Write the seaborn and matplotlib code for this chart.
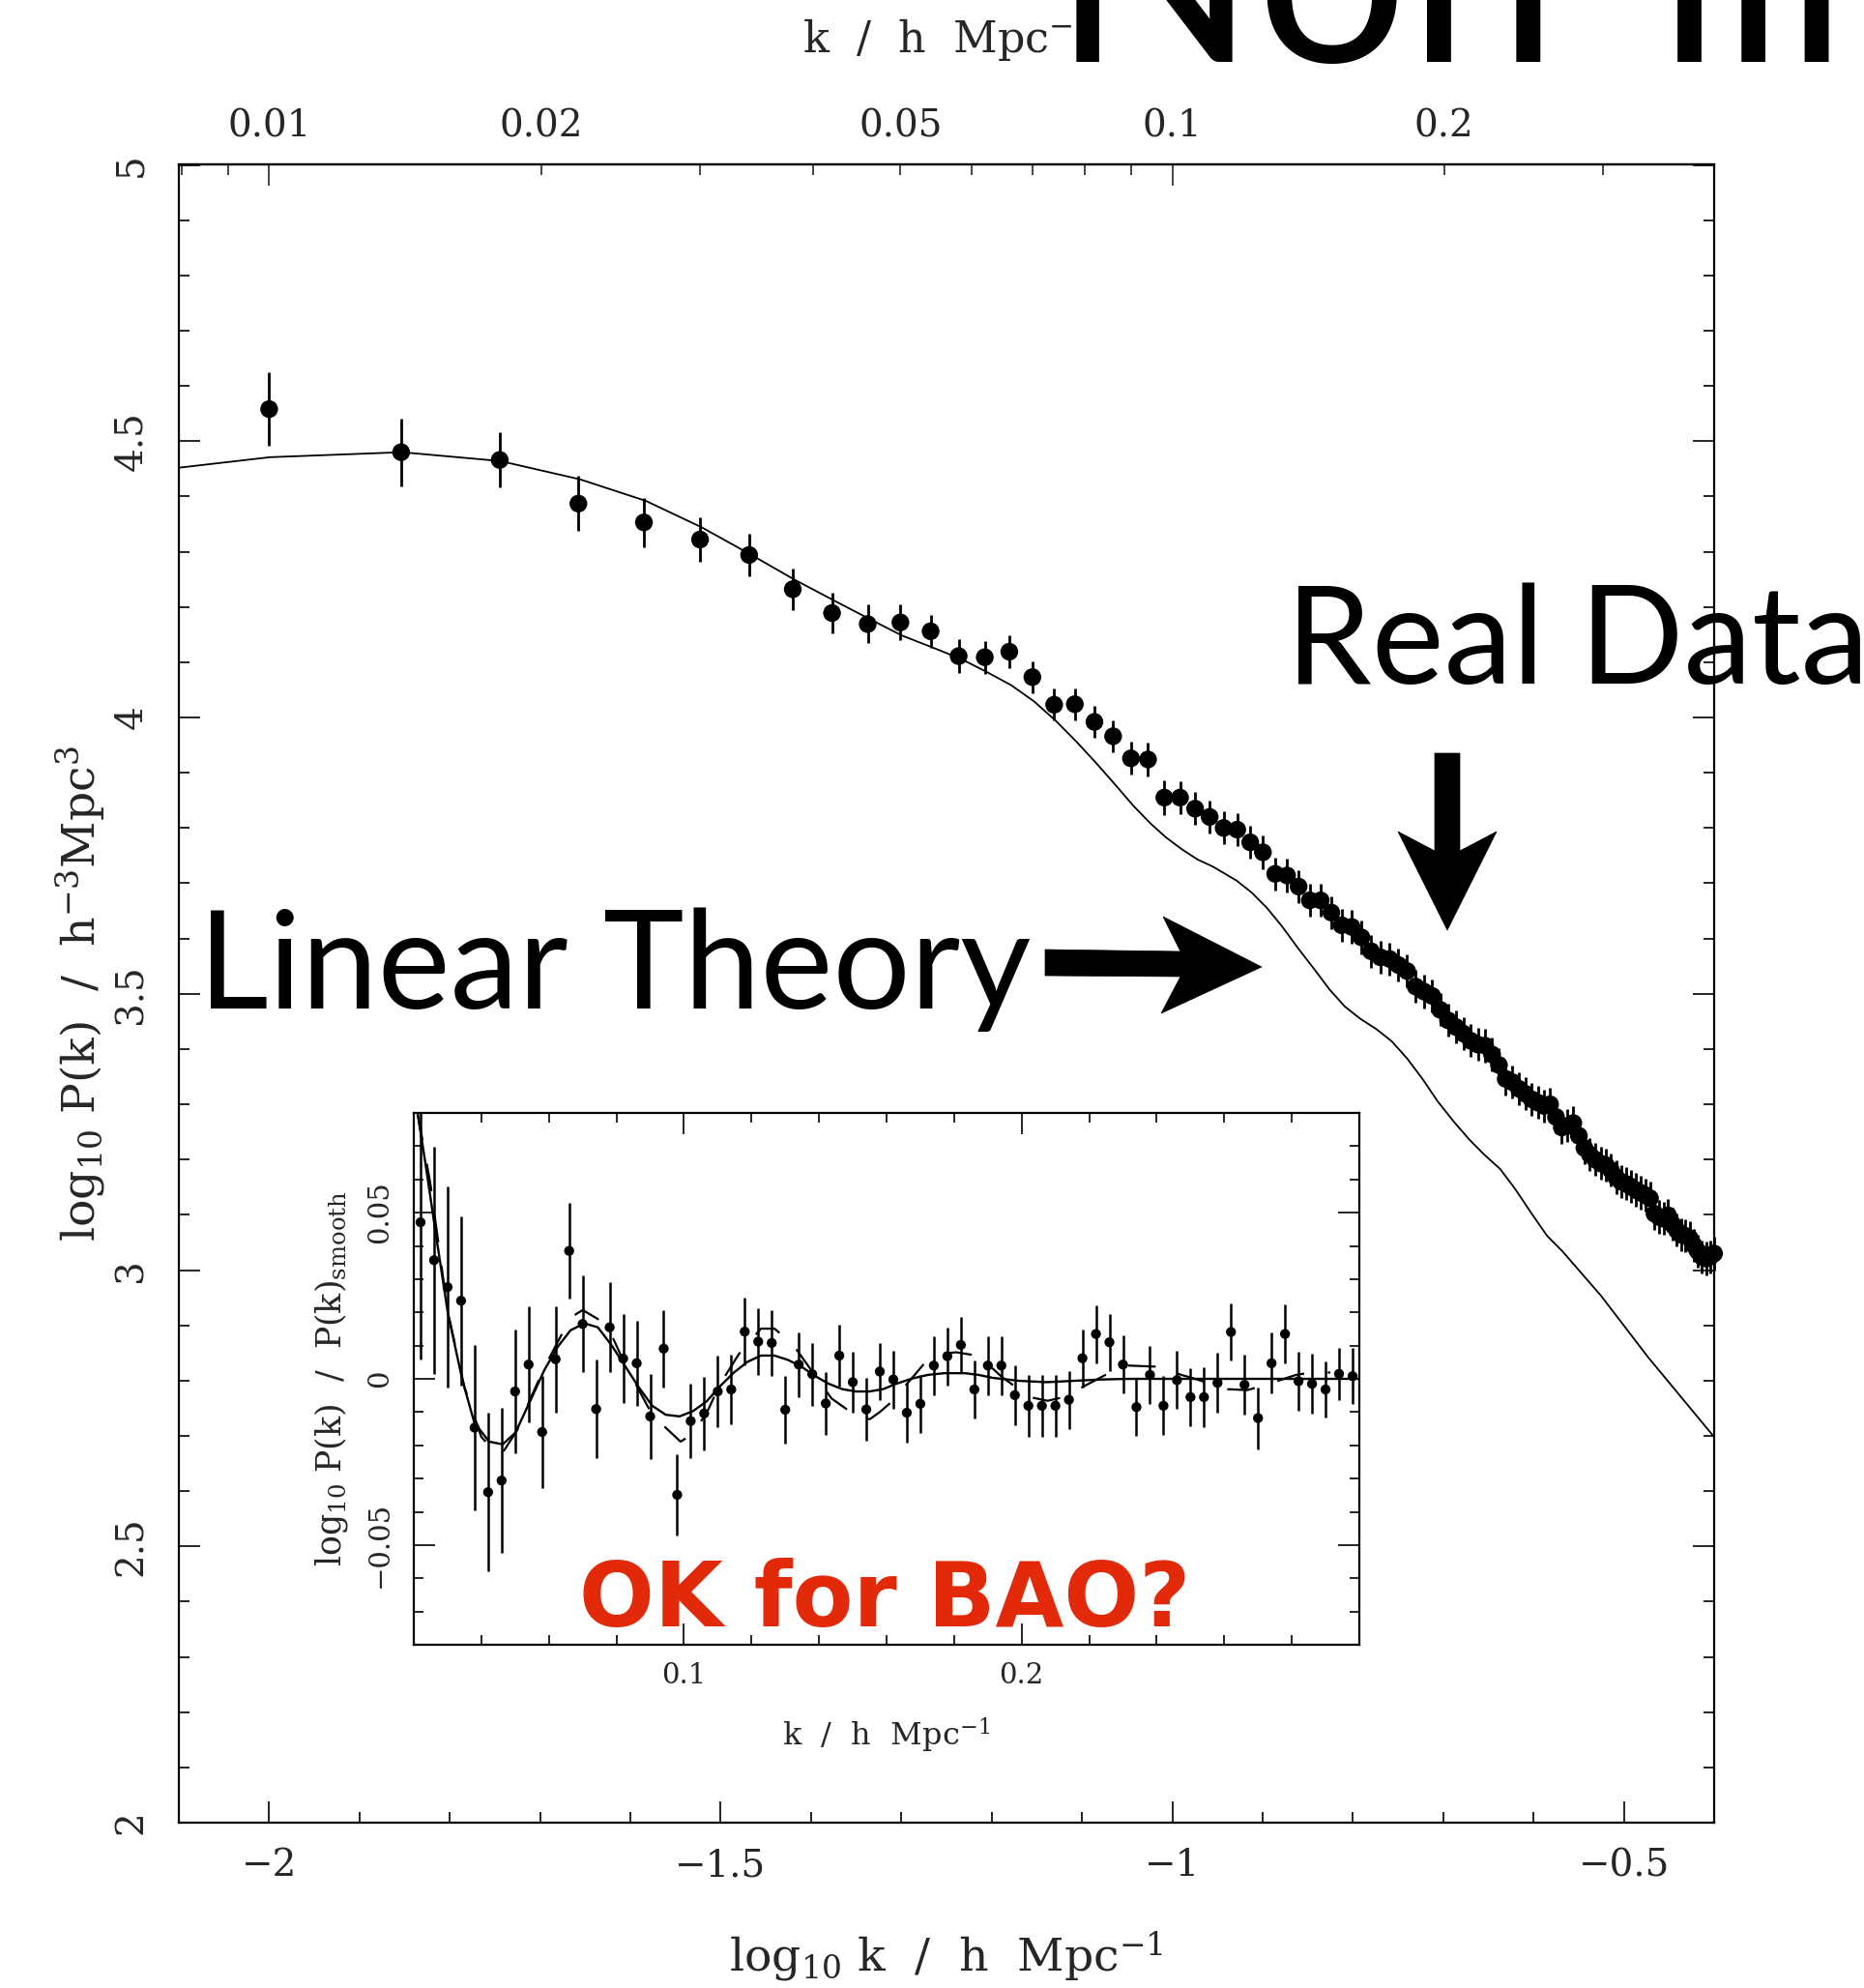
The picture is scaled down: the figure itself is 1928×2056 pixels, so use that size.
import numpy as np
import matplotlib
matplotlib.use("Agg")
import matplotlib.pyplot as plt
import seaborn as sns
from matplotlib.ticker import MultipleLocator, FixedLocator, FixedFormatter, FuncFormatter
from matplotlib.patches import Polygon

# ---------------------------------------------------------------- data
# measured band powers: wavenumber k [h/Mpc], log10 P(k), 1-sigma error
k_data = [0.010, 0.014, 0.018, 0.022, 0.026, 0.030, 0.034, 0.038, 0.042, 0.046,
          0.050, 0.054, 0.058, 0.062, 0.066, 0.070, 0.074, 0.078, 0.082, 0.086,
          0.090, 0.094, 0.098, 0.102, 0.106, 0.110, 0.114, 0.118, 0.122, 0.126,
          0.130, 0.134, 0.138, 0.142, 0.146, 0.150, 0.154, 0.158, 0.162, 0.166,
          0.170, 0.174, 0.178, 0.182, 0.186, 0.190, 0.194, 0.198, 0.202, 0.206,
          0.210, 0.214, 0.218, 0.222, 0.226, 0.230, 0.234, 0.238, 0.242, 0.246,
          0.250, 0.254, 0.258, 0.262, 0.266, 0.270, 0.274, 0.278, 0.282, 0.286,
          0.290, 0.294, 0.298, 0.302, 0.306, 0.310, 0.314, 0.318, 0.322, 0.326,
          0.330, 0.334, 0.338, 0.342, 0.346, 0.350, 0.354, 0.358, 0.362, 0.366,
          0.370, 0.374, 0.378, 0.382, 0.386, 0.390, 0.394, 0.398]
logp_data = [4.558, 4.480, 4.466, 4.387, 4.353, 4.322, 4.294, 4.232, 4.189, 4.169,
             4.172, 4.156, 4.111, 4.109, 4.119, 4.073, 4.023, 4.024, 3.992, 3.966,
             3.926, 3.924, 3.855, 3.855, 3.835, 3.820, 3.800, 3.797, 3.774, 3.756,
             3.717, 3.714, 3.694, 3.669, 3.669, 3.647, 3.624, 3.621, 3.602, 3.577,
             3.566, 3.563, 3.552, 3.541, 3.513, 3.504, 3.496, 3.471, 3.452, 3.440,
             3.428, 3.415, 3.408, 3.406, 3.390, 3.371, 3.346, 3.340, 3.328, 3.319,
             3.309, 3.303, 3.297, 3.300, 3.277, 3.258, 3.261, 3.266, 3.243, 3.221,
             3.209, 3.200, 3.193, 3.190, 3.181, 3.168, 3.160, 3.156, 3.151, 3.145,
             3.140, 3.136, 3.130, 3.102, 3.096, 3.093, 3.099, 3.083, 3.072, 3.064,
             3.062, 3.058, 3.045, 3.034, 3.024, 3.021, 3.024, 3.030]
logp_err = [0.067, 0.061, 0.050, 0.050, 0.045, 0.041, 0.038, 0.038, 0.037, 0.035,
            0.032, 0.030, 0.031, 0.030, 0.030, 0.029, 0.029, 0.029, 0.029, 0.029,
            0.030, 0.030, 0.031, 0.030, 0.030, 0.030, 0.030, 0.030, 0.030, 0.030,
            0.030, 0.030, 0.030, 0.030, 0.030, 0.030, 0.030, 0.030, 0.030, 0.030,
            0.030, 0.030, 0.030, 0.030, 0.030, 0.030, 0.030, 0.030, 0.030, 0.030,
            0.030, 0.030, 0.030, 0.030, 0.030, 0.030, 0.030, 0.030, 0.030, 0.030,
            0.030, 0.030, 0.030, 0.030, 0.030, 0.030, 0.030, 0.030, 0.030, 0.030,
            0.030, 0.030, 0.030, 0.030, 0.030, 0.030, 0.030, 0.030, 0.030, 0.030,
            0.030, 0.030, 0.030, 0.030, 0.030, 0.030, 0.030, 0.030, 0.030, 0.030,
            0.030, 0.030, 0.030, 0.030, 0.030, 0.030, 0.030, 0.030]

# linear-theory prediction, sampled in log10 k
theory_logk = [-2.100, -1.999, -1.853, -1.744, -1.656, -1.583, -1.521, -1.467, -1.419, -1.375,
               -1.335, -1.299, -1.266, -1.234, -1.205, -1.178, -1.153, -1.129, -1.106, -1.084,
               -1.063, -1.043, -1.024, -1.007, -0.989, -0.972, -0.955, -0.929, -0.912, -0.895,
               -0.878, -0.861, -0.843, -0.826, -0.809, -0.792, -0.774, -0.757, -0.740, -0.723,
               -0.706, -0.688, -0.671, -0.654, -0.637, -0.620, -0.602, -0.585, -0.568, -0.551,
               -0.525, -0.473, -0.400]
theory_logp = [4.452, 4.471, 4.480, 4.464, 4.431, 4.392, 4.344, 4.295, 4.250, 4.212,
               4.178, 4.148, 4.127, 4.106, 4.082, 4.058, 4.029, 3.994, 3.956, 3.917,
               3.878, 3.840, 3.808, 3.783, 3.761, 3.743, 3.730, 3.705, 3.683, 3.655,
               3.621, 3.583, 3.545, 3.508, 3.477, 3.455, 3.436, 3.414, 3.383, 3.346,
               3.305, 3.268, 3.236, 3.208, 3.183, 3.146, 3.102, 3.062, 3.034, 3.002,
               2.953, 2.842, 2.698]

# inset: oscillatory part log10 P(k)/P_smooth(k)
k_bao = [0.022, 0.026, 0.030, 0.034, 0.038, 0.042, 0.046, 0.050, 0.054, 0.058,
         0.062, 0.066, 0.070, 0.074, 0.078, 0.082, 0.086, 0.090, 0.094, 0.098,
         0.102, 0.106, 0.110, 0.114, 0.118, 0.122, 0.126, 0.130, 0.134, 0.138,
         0.142, 0.146, 0.150, 0.154, 0.158, 0.162, 0.166, 0.170, 0.174, 0.178,
         0.182, 0.186, 0.190, 0.194, 0.198, 0.202, 0.206, 0.210, 0.214, 0.218,
         0.222, 0.226, 0.230, 0.234, 0.238, 0.242, 0.246, 0.250, 0.254, 0.258,
         0.262, 0.266, 0.270, 0.274, 0.278, 0.282, 0.286, 0.290, 0.294, 0.298]
bao_ratio = [0.0471, 0.0357, 0.0276, 0.0235, -0.0147, -0.0341, -0.0306, -0.0038, 0.0043, -0.0160,
             0.0059, 0.0385, 0.0165, -0.0091, 0.0155, 0.0061, 0.0047, -0.0113, 0.0091, -0.0349,
             -0.0127, -0.0104, -0.0038, -0.0032, 0.0142, 0.0112, 0.0108, -0.0093, 0.0043, 0.0014,
             -0.0074, 0.0070, -0.0010, -0.0092, 0.0022, -0.0002, -0.0102, -0.0075, 0.0040, 0.0068,
             0.0102, -0.0032, 0.0040, 0.0040, -0.0049, -0.0081, -0.0081, -0.0081, -0.0063, 0.0062,
             0.0135, 0.0110, 0.0043, -0.0085, 0.0012, -0.0081, -0.0004, -0.0055, -0.0055, -0.0012,
             0.0141, -0.0018, -0.0118, 0.0047, 0.0135, -0.0007, -0.0015, -0.0032, 0.0015, 0.0008]
bao_err = [0.0412, 0.0341, 0.0302, 0.0254, 0.0248, 0.0238, 0.0218, 0.0186, 0.0175, 0.0168,
           0.0160, 0.0144, 0.0145, 0.0148, 0.0135, 0.0133, 0.0129, 0.0127, 0.0116, 0.0122,
           0.0112, 0.0111, 0.0107, 0.0106, 0.0101, 0.0099, 0.0099, 0.0102, 0.0097, 0.0094,
           0.0095, 0.0092, 0.0092, 0.0095, 0.0087, 0.0087, 0.0089, 0.0088, 0.0088, 0.0087,
           0.0084, 0.0088, 0.0088, 0.0088, 0.0091, 0.0093, 0.0093, 0.0093, 0.0087, 0.0087,
           0.0087, 0.0086, 0.0087, 0.0086, 0.0087, 0.0089, 0.0087, 0.0088, 0.0090, 0.0090,
           0.0085, 0.0090, 0.0093, 0.0092, 0.0088, 0.0089, 0.0090, 0.0085, 0.0078, 0.0085]

# best-fit damped BAO model (solid)
k_fit = [0.0205, 0.0211, 0.0234, 0.0263, 0.0301, 0.0344, 0.0379, 0.0423, 0.0463, 0.0501,
         0.0544, 0.0587, 0.0626, 0.0664, 0.0705, 0.0745, 0.0785, 0.0826, 0.0866, 0.0906,
         0.0946, 0.0987, 0.1027, 0.1067, 0.1108, 0.1148, 0.1188, 0.1228, 0.1268, 0.1308,
         0.1349, 0.1389, 0.1429, 0.1469, 0.1509, 0.1549, 0.1590, 0.1628, 0.1676, 0.1723,
         0.1771, 0.1832, 0.1872, 0.1914, 0.1993, 0.2074, 0.2154, 0.2234, 0.2314, 0.2535,
         0.3000]
fit_ratio = [0.0870, 0.0800, 0.0652, 0.0451, 0.0197, -0.0004, -0.0131, -0.0189, -0.0197, -0.0162,
             -0.0068, 0.0027, 0.0096, 0.0146, 0.0167, 0.0155, 0.0102, 0.0038, -0.0025, -0.0081,
             -0.0108, -0.0113, -0.0097, -0.0068, -0.0021, 0.0019, 0.0051, 0.0070, 0.0070, 0.0057,
             0.0036, 0.0008, -0.0015, -0.0031, -0.0038, -0.0038, -0.0031, -0.0015, 0.0001, 0.0012,
             0.0017, 0.0017, 0.0012, 0.0003, -0.0006, -0.0010, -0.0006, -0.0002, 0.0000, 0.0000,
             0.0000]

# undamped model (dashed)
k_undamped = [0.0211, 0.0249, 0.0300, 0.0350, 0.0400, 0.0440, 0.0462, 0.0506, 0.0544, 0.0587,
              0.0635, 0.0664, 0.0700, 0.0745, 0.0785, 0.0826, 0.0907, 0.0990, 0.1026, 0.1069,
              0.1108, 0.1163, 0.1228, 0.1268, 0.1320, 0.1389, 0.1437, 0.1523, 0.1551, 0.1580,
              0.1614, 0.1680, 0.1714, 0.1757, 0.1806, 0.1855, 0.1895, 0.1941, 0.2024, 0.2077,
              0.2124, 0.2215, 0.2267, 0.2315, 0.2413, 0.2472, 0.2501, 0.2609, 0.2668, 0.2716,
              0.2813, 0.2859, 0.2914]
undamped_ratio = [0.0800, 0.0588, 0.0205, -0.0025, -0.0175, -0.0219, -0.0224, -0.0155, -0.0063, 0.0035,
                  0.0128, 0.0184, 0.0207, 0.0180, 0.0133, 0.0043, -0.0110, -0.0189, -0.0166, -0.0099,
                  -0.0014, 0.0075, 0.0151, 0.0151, 0.0107, 0.0009, -0.0059, -0.0121, -0.0121, -0.0100,
                  -0.0070, 0.0008, 0.0049, 0.0075, 0.0080, 0.0072, 0.0049, 0.0006, -0.0055, -0.0066,
                  -0.0055, -0.0006, 0.0022, 0.0040, 0.0036, 0.0012, 0.0004, -0.0031, -0.0034, -0.0020,
                  0.0012, 0.0019, 0.0019]

top_k_major = [0.01, 0.1]
top_k_minor = [0.008, 0.009, 0.02, 0.03, 0.04, 0.05, 0.06, 0.07, 0.08, 0.09, 0.2, 0.3, 0.4]
top_minor_labels = ["", "", "0.02", "", "", "0.05", "", "", "", "", "0.2", "", ""]
inset_k_major = [0.1, 0.2]

# ---------------------------------------------------------------- style
sns.set_theme(style="ticks")
plt.rcParams["font.family"] = ["DejaVu Serif"]
plt.rcParams["mathtext.fontset"] = "dejavuserif"
plt.rcParams["axes.unicode_minus"] = True

W, H = 1928, 2056
fig = plt.figure(figsize=(W / 100, H / 100), dpi=100)
fig.patch.set_facecolor("white")


def fx(px):
    return px / W


def fy(py):
    return 1 - py / H


def g_fmt(v, pos):
    return ("%g" % round(v, 6)).replace("-", "\u2212")


# ---------------------------------------------------------------- main panel
ax = fig.add_axes([fx(185), fy(1885), fx(1773 - 185), (1885 - 170.5) / H])
ax.set_facecolor("white")

sns.lineplot(x=theory_logk, y=theory_logp, ax=ax, color="black", lw=1.3,
             estimator=None, sort=False, zorder=2)
logk_data = np.log10(k_data)
lp = np.array(logp_data)
le = np.array(logp_err)
ax.vlines(logk_data, lp - le, lp + le, color="black", lw=2.0, zorder=3, clip_on=False)
sns.scatterplot(x=logk_data, y=lp, ax=ax, s=175, color="black", edgecolor="none",
                zorder=4, clip_on=False, legend=False)

ax.set_xlim(-2.1, -0.4)
ax.set_ylim(2, 5)
ax.xaxis.set_major_locator(MultipleLocator(0.5))
ax.xaxis.set_minor_locator(MultipleLocator(0.1))
ax.yaxis.set_major_locator(MultipleLocator(0.5))
ax.yaxis.set_minor_locator(MultipleLocator(0.1))
ax.xaxis.set_major_formatter(FuncFormatter(g_fmt))
ax.yaxis.set_major_formatter(FuncFormatter(g_fmt))
ax.tick_params(which="both", direction="in", top=False, right=True, color="black",
               width=1.2)
ax.tick_params(which="major", length=16, labelsize=28)
ax.tick_params(which="minor", length=8)
ax.tick_params(axis="x", which="major", pad=19)
ax.tick_params(axis="y", which="major", pad=22, labelrotation=90)
for lab in ax.get_yticklabels():
    lab.set_verticalalignment("center")
for s in ax.spines.values():
    s.set_linewidth(1.6)
    s.set_color("black")
ax.set_xlabel("log$_{10}$ k  /  h  Mpc$^{-1}$", fontsize=34, labelpad=34)
ax.set_ylabel("log$_{10}$ P(k)  /  h$^{-3}$Mpc$^{3}$", fontsize=34, labelpad=4)

# top axis in linear k
sec = ax.secondary_xaxis("top")
sec.xaxis.set_major_locator(FixedLocator(np.log10(top_k_major)))
sec.xaxis.set_major_formatter(FixedFormatter(["0.01", "0.1"]))
sec.xaxis.set_minor_locator(FixedLocator(np.log10(top_k_minor)))
sec.xaxis.set_minor_formatter(FixedFormatter(top_minor_labels))
sec.tick_params(which="both", direction="in", width=1.2, labelsize=28, pad=15)
sec.tick_params(which="major", length=16)
sec.tick_params(which="minor", length=8)
sec.spines["top"].set_linewidth(1.6)
sec.set_xlabel("k  /  h  Mpc$^{-1}$", fontsize=32, labelpad=42)

# ---------------------------------------------------------------- inset
axin = fig.add_axes([fx(428), fy(1701), fx(1406 - 428), (1701 - 1151) / H])
axin.set_facecolor("white")
sns.lineplot(x=k_fit, y=fit_ratio, ax=axin, color="black", lw=1.7,
             estimator=None, sort=False, zorder=2)
sns.lineplot(x=k_undamped, y=undamped_ratio, ax=axin, color="black", lw=1.6,
             estimator=None, sort=False, zorder=2, dashes=False)
axin.lines[-1].set_dashes([13, 11])
br = np.array(bao_ratio)
be = np.array(bao_err)
axin.vlines(k_bao, br - be, br + be, color="black", lw=1.8, zorder=3)
sns.scatterplot(x=k_bao, y=br, ax=axin, s=55, color="black", edgecolor="none",
                zorder=4, legend=False)
axin.set_xlim(0.02, 0.3)
axin.set_ylim(-0.08, 0.08)
axin.xaxis.set_major_locator(FixedLocator(inset_k_major))
axin.xaxis.set_minor_locator(MultipleLocator(0.02))
axin.yaxis.set_major_locator(MultipleLocator(0.05))
axin.yaxis.set_minor_locator(MultipleLocator(0.01))
axin.xaxis.set_major_formatter(FuncFormatter(g_fmt))
axin.yaxis.set_major_formatter(FuncFormatter(g_fmt))
axin.tick_params(which="both", direction="in", top=True, right=True, width=1.2,
                 color="black")
axin.tick_params(which="major", length=16, labelsize=21)
axin.tick_params(which="minor", length=7)
axin.tick_params(axis="x", which="major", pad=13)
axin.tick_params(axis="y", which="major", pad=15, labelrotation=90)
for lab in axin.get_yticklabels():
    lab.set_verticalalignment("center")
for s in axin.spines.values():
    s.set_linewidth(1.6)
    s.set_color("black")
axin.set_xlabel("k  /  h  Mpc$^{-1}$", fontsize=23, labelpad=20)
axin.set_ylabel("log$_{10}$ P(k)  /  P(k)$_{\\mathrm{smooth}}$", fontsize=25, labelpad=12)

# ---------------------------------------------------------------- annotations
def arrow(points):
    poly = Polygon([(fx(x), fy(y)) for x, y in points], closed=True,
                   transform=fig.transFigure, facecolor="black", edgecolor="black",
                   lw=0.5, zorder=10)
    fig.add_artist(poly)


arrow([(1081, 982), (1221, 984), (1203, 948), (1305, 1000), (1201, 1048),
       (1221, 1010), (1081, 1009)])
arrow([(1484, 779), (1510, 779), (1510, 880), (1548, 860), (1497, 962),
       (1446, 860), (1484, 880)])

fig.text(fx(1330), fy(707), "Real Data", family="Lato", fontsize=102,
         va="baseline", ha="left", color="black", zorder=11)
fig.text(fx(205), fy(1043), "Linear Theory", family="Lato", fontsize=102,
         va="baseline", ha="left", color="black", zorder=11)
fig.text(fx(915), fy(1682), "OK for BAO?", family="DejaVu Sans", fontweight="bold",
         fontsize=66, va="baseline", ha="center", color="#E22A0B", zorder=11)
fig.text(fx(1088), fy(64), "Non-linear", family="Lato", fontsize=200,
         va="baseline", ha="left", color="black", zorder=11)

fig.savefig("out.png", dpi=100, facecolor="white")
